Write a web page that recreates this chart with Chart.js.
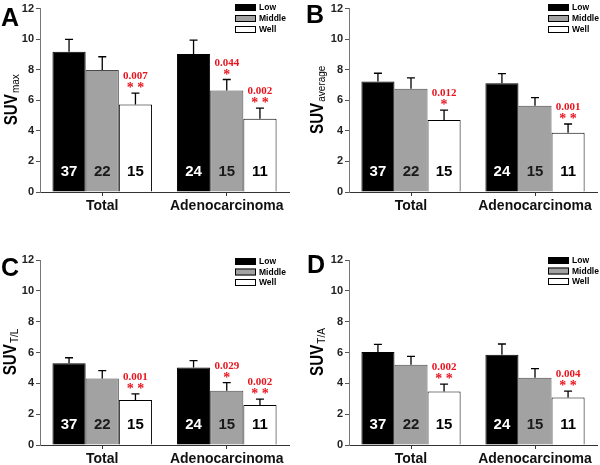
<!DOCTYPE html>
<html><head><meta charset="utf-8">
<script src="https://cdn.jsdelivr.net/npm/chart.js@4.4.0/dist/chart.umd.min.js"></script>
<style>
html,body{margin:0;padding:0;background:#fff;}
#wrap{position:relative;width:600px;height:465px;background:#fff;}
canvas{position:absolute;}
</style></head><body>
<div id="wrap">
<canvas id="cA" width="300" height="232" style="left:0;top:0"></canvas>
<canvas id="cB" width="300" height="232" style="left:300px;top:0"></canvas>
<canvas id="cC" width="300" height="233" style="left:0;top:232px"></canvas>
<canvas id="cD" width="300" height="233" style="left:300px;top:232px"></canvas>
</div>
<script>
// ---- data ----
const groups = ['Total', 'Adenocarcinoma'];
const seriesNames = ['Low', 'Middle', 'Well'];
const yTicks = [0, 2, 4, 6, 8, 10, 12];
const countsLow = [37, 24];
const countsMid = [22, 15];
const countsWell = [15, 11];

// A: SUVmax
const suvMaxLow = [9.18, 9.03];
const suvMaxMid = [7.99, 6.64];
const suvMaxWell = [5.73, 4.80];
const suvMaxLowErr = [0.80, 0.91];
const suvMaxMidErr = [0.86, 0.72];
const suvMaxWellErr = [0.74, 0.69];
const sigMax = [['Well', 'Total', '0.007', '**'], ['Middle', 'Adenocarcinoma', '0.044', '*'], ['Well', 'Adenocarcinoma', '0.002', '**']];

// B: SUVaverage
const suvAvgLow = [7.23, 7.12];
const suvAvgMid = [6.75, 5.64];
const suvAvgWell = [4.71, 3.88];
const suvAvgLowErr = [0.54, 0.63];
const suvAvgMidErr = [0.72, 0.54];
const suvAvgWellErr = [0.65, 0.57];
const sigAvg = [['Well', 'Total', '0.012', '*'], ['Well', 'Adenocarcinoma', '0.001', '**']];

// C: SUVT/L
const suvTLLow = [5.30, 5.02];
const suvTLMid = [4.32, 3.52];
const suvTLWell = [2.92, 2.59];
const suvTLLowErr = [0.36, 0.45];
const suvTLMidErr = [0.50, 0.52];
const suvTLWellErr = [0.39, 0.39];
const sigTL = [['Well', 'Total', '0.001', '**'], ['Middle', 'Adenocarcinoma', '0.029', '*'], ['Well', 'Adenocarcinoma', '0.002', '**']];

// D: SUVT/A
const suvTALow = [6.03, 5.86];
const suvTAMid = [5.21, 4.36];
const suvTAWell = [3.47, 3.08];
const suvTALowErr = [0.50, 0.69];
const suvTAMidErr = [0.54, 0.59];
const suvTAWellErr = [0.48, 0.41];
const sigTA = [['Well', 'Total', '0.002', '**'], ['Well', 'Adenocarcinoma', '0.004', '**']];

// ---- styles ----
const SANS = '"Liberation Sans", Arial, Helvetica, sans-serif';
const SERIF = '"Liberation Serif", "Times New Roman", serif';
const fills = ['#000000', '#a2a2a2', '#ffffff'];
const borders = ['#000000', '#4a4a4a', '#000000'];
const countColors = ['#ffffff', '#1a1a1a', '#000000'];
const RED = '#e8141e';

function makePanel(id, H, letter, sub, means, errs, counts, sigs, lay) {
  const ctx = document.getElementById(id);
  const datasets = seriesNames.map((name, i) => ({
    label: name, data: means[i], backgroundColor: fills[i], borderColor: borders[i],
    borderWidth: 1, borderSkipped: 'bottom', categoryPercentage: 0.8, barPercentage: 1.0
  }));
  const deco = {
    id: 'deco' + id,
    afterDatasetsDraw(chart) {
      const c = chart.ctx, ys = chart.scales.y;
      c.save();
      // error bars + counts
      datasets.forEach((ds, i) => {
        const meta = chart.getDatasetMeta(i);
        meta.data.forEach((el, j) => {
          const top = ys.getPixelForValue(means[i][j] + errs[i][j]);
          c.strokeStyle = '#000'; c.lineWidth = 1.3;
          c.beginPath();
          c.moveTo(el.x, el.y); c.lineTo(el.x, top);
          c.moveTo(el.x - 4, top); c.lineTo(el.x + 4, top);
          c.stroke();
          c.fillStyle = countColors[i];
          c.font = 'bold 15px ' + SANS;
          c.textAlign = 'center'; c.textBaseline = 'middle';
          c.fillText(String(counts[i][j]), el.x, ys.getPixelForValue(0) - 20);
        });
      });
      // significance
      sigs.forEach(s => {
        const i = seriesNames.indexOf(s[0]), j = groups.indexOf(s[1]);
        const el = chart.getDatasetMeta(i).data[j];
        const top = ys.getPixelForValue(means[i][j] + errs[i][j]);
        c.fillStyle = RED; c.textAlign = 'center'; c.textBaseline = 'alphabetic';
        c.font = 'bold 11px ' + SERIF;
        c.fillText(s[2], el.x, top - 14);
        c.font = 'bold 14px ' + SERIF;
        c.fillText(s[3].split('').join(' '), el.x, top - 1);
      });
      // legend
      seriesNames.forEach((name, i) => {
        const y = lay.legY + i * lay.legStep;
        c.fillStyle = fills[i]; c.fillRect(lay.legX, y, 21, 7);
        c.strokeStyle = '#000'; c.lineWidth = 1;
        c.strokeRect(lay.legX + 0.5, y + 0.5, 20, 6);
        c.fillStyle = '#000'; c.font = 'bold 8.5px ' + SANS;
        c.textAlign = 'left'; c.textBaseline = 'middle';
        c.fillText(name, lay.legX + 24, y + 4);
      });
      // panel letter
      c.fillStyle = '#000'; c.font = 'bold 25px ' + SANS;
      c.textAlign = 'left'; c.textBaseline = 'alphabetic';
      c.fillText(letter, lay.letX, lay.letY);
      // y title SUV_sub
      const ca = chart.chartArea;
      const cy = (ca.top + ca.bottom) / 2;
      c.translate(lay.titleX, cy);
      c.rotate(-Math.PI / 2);
      c.font = 'bold 19px ' + SANS;
      const w1 = c.measureText('SUV').width * 0.8;
      c.font = '10px ' + SANS;
      const w2 = c.measureText(sub).width;
      const x0 = -(w1 + w2) / 2;
      c.save();
      c.translate(x0, 0); c.scale(0.8, 1);
      c.font = 'bold 19px ' + SANS; c.textAlign = 'left'; c.textBaseline = 'alphabetic';
      c.fillText('SUV', 0, 7);
      c.restore();
      c.font = '10px ' + SANS; c.textAlign = 'left';
      c.fillText(sub, x0 + w1 + 1, 9);
      c.restore();
    }
  };
  return new Chart(ctx, {
    type: 'bar',
    data: { labels: groups, datasets },
    options: {
      responsive: false, animation: false,
      layout: { padding: { left: 0, right: 300 - lay.right, top: lay.top, bottom: 0 } },
      plugins: { legend: { display: false }, tooltip: { enabled: false } },
      scales: {
        x: {
          offset: true,
          grid: { display: true, offset: false, drawOnChartArea: false, drawTicks: true, tickLength: 4, tickColor: '#333', lineWidth: 1 },
          border: { color: '#333', width: 1 },
          ticks: { font: { family: SANS, weight: 'bold', size: 14 }, color: '#111', padding: 2, maxRotation: 0 },
          afterFit(s) { s.height = H - lay.bottom; }
        },
        y: {
          min: 0, max: 12,
          afterBuildTicks(s) { s.ticks = yTicks.map(v => ({ value: v })); },
          grid: { display: true, drawOnChartArea: false, drawTicks: true, tickLength: 4, tickColor: '#555' },
          border: { color: '#777', width: 1 },
          ticks: { font: { family: SANS, weight: 'bold', size: 11 }, color: '#222', padding: 2 },
          afterFit(s) { s.width = lay.left; }
        }
      }
    },
    plugins: [deco]
  });
}

makePanel('cA', 232, 'A', 'max',
  [suvMaxLow, suvMaxMid, suvMaxWell], [suvMaxLowErr, suvMaxMidErr, suvMaxWellErr],
  [countsLow, countsMid, countsWell], sigMax,
  { left: 40, right: 289, top: 7, bottom: 192, legX: 235, legY: 4, legStep: 11, letX: 1, letY: 26, titleX: 10 });
makePanel('cB', 232, 'B', 'average',
  [suvAvgLow, suvAvgMid, suvAvgWell], [suvAvgLowErr, suvAvgMidErr, suvAvgWellErr],
  [countsLow, countsMid, countsWell], sigAvg,
  { left: 49, right: 297, top: 7, bottom: 192, legX: 248, legY: 4, legStep: 11, letX: 6, letY: 23, titleX: 16 });
makePanel('cC', 233, 'C', 'T/L',
  [suvTLLow, suvTLMid, suvTLWell], [suvTLLowErr, suvTLMidErr, suvTLWellErr],
  [countsLow, countsMid, countsWell], sigTL,
  { left: 40, right: 289, top: 28, bottom: 213, legX: 235, legY: 26, legStep: 10.5, letX: 1, letY: 44, titleX: 9 });
makePanel('cD', 233, 'D', 'T/A',
  [suvTALow, suvTAMid, suvTAWell], [suvTALowErr, suvTAMidErr, suvTAWellErr],
  [countsLow, countsMid, countsWell], sigTA,
  { left: 49, right: 297, top: 28, bottom: 213, legX: 248, legY: 25, legStep: 10.5, letX: 7, letY: 41, titleX: 16 });
</script>
</body></html>
